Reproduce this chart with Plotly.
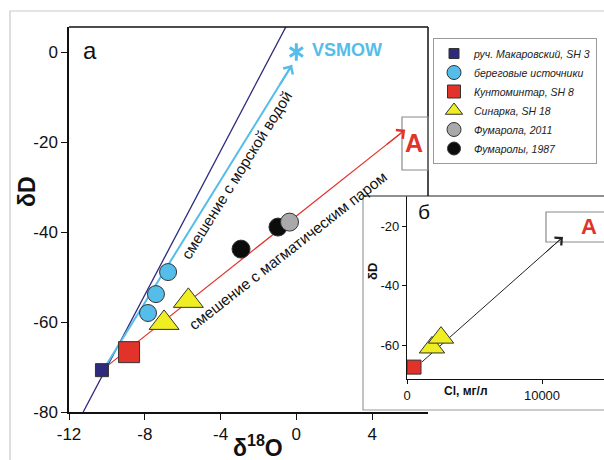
import math
import plotly.graph_objects as go

W, H = 604, 460
FONT = "Liberation Sans, Arial, sans-serif"

# ---------------- data: main panel (a) ----------------
mak_x, mak_y = [-10.26], [-70.7]                      # руч. Макаровский, SH 3
shore_x, shore_y = [-6.77, -7.41, -7.83], [-48.9, -53.8, -58.0]   # береговые источники
kunt_x, kunt_y = [-8.83], [-66.7]                     # Кунтоминтар, SH 8
sin_x, sin_y = [-5.70, -6.98], [-55.3, -60.2]         # Синарка, SH 18
fum11_x, fum11_y = [-0.36], [-37.8]                   # Фумарола, 2011
fum87_x, fum87_y = [-2.92, -0.97], [-43.8, -38.9]     # Фумаролы, 1987
vsmow_x, vsmow_y = [0.0], [0.0]

gmwl_x, gmwl_y = [-11.25, -0.5], [-80.0, 6.0]         # meteoric water line
sea_x, sea_y = [-10.1, -0.23], [-70.0, -2.9]          # mixing with sea water
mag_x, mag_y = [-10.26, 5.74], [-70.7, -17.3]         # mixing with magmatic steam

x_ticks = [-12, -8, -4, 0, 4]
x_ticktext = ["-12", "-8", "-4", "0", "4"]
y_ticks = [0, -20, -40, -60, -80]
y_ticktext = ["0", "-20", "-40", "-60", "-80"]

# ---------------- data: inset (б) ----------------
in_kunt_x, in_kunt_y = [520], [-67.4]
in_sin_x, in_sin_y = [1850, 2520], [-60.8, -57.5]
in_arrow_x, in_arrow_y = [1100, 11550], [-65.7, -23.7]
in_x_ticks = [0, 10000]
in_x_ticktext = ["0", "10000"]
in_y_ticks = [-20, -40, -60]
in_y_ticktext = ["-20", "-40", "-60"]

# ---------------- geometry helpers ----------------
def px(x):
    return x / W

def py(y):
    return 1 - y / H

MX0, MX1, MY0, MY1 = 69, 428, 27, 412          # main plot area (px)
IX0, IX1, IY0, IY1 = 407, 604, 196, 379        # inset plot area (px)
mxr = [-12, 6.95]
myr = [-80, 5.56]
ixr = [0, 14593]
iyr = [-71.4, -9.9]

PURPLE = "#2e2a7e"
CYAN = "#55bde9"
RED = "#e2332b"
YELLOW = "#eeee22"
GRAY = "#a9a9ab"
BLACK = "#0c0c0c"
EDGE = "#333333"

fig = go.Figure()

# lines (below markers)
fig.add_trace(go.Scatter(x=gmwl_x, y=gmwl_y, mode="lines",
                         line=dict(color=PURPLE, width=1.3), showlegend=False, hoverinfo="skip"))
fig.add_trace(go.Scatter(x=sea_x, y=sea_y, mode="lines",
                         line=dict(color=CYAN, width=2), showlegend=False, hoverinfo="skip"))
fig.add_trace(go.Scatter(x=mag_x, y=mag_y, mode="lines",
                         line=dict(color=RED, width=1.2), showlegend=False, hoverinfo="skip"))

def pts(x, y, symbol, size, color, xa="x", ya="y"):
    fig.add_trace(go.Scatter(x=x, y=y, mode="markers", xaxis=xa, yaxis=ya,
                             marker=dict(symbol=symbol, size=size, color=color,
                                         line=dict(color=EDGE, width=1)),
                             showlegend=False, cliponaxis=False))

pts(mak_x, mak_y, "square", 13, PURPLE)
pts(shore_x, shore_y, "circle", 17, CYAN)
pts(kunt_x, kunt_y, "square", 21, RED)
pts(sin_x, sin_y, "triangle-up", 26, YELLOW)
pts(fum87_x, fum87_y, "circle", 18, BLACK)
pts(fum11_x, fum11_y, "circle", 18, GRAY)

# VSMOW asterisk (6 arms)
for sym in ["y-up-open", "y-down-open"]:
    fig.add_trace(go.Scatter(x=vsmow_x, y=vsmow_y, mode="markers", showlegend=False,
                             marker=dict(symbol=sym, size=11, color=CYAN,
                                         line=dict(color=CYAN, width=3)), cliponaxis=False))

# inset traces
fig.add_trace(go.Scatter(x=in_arrow_x, y=in_arrow_y, mode="lines", xaxis="x2", yaxis="y2",
                         line=dict(color="#222222", width=1), showlegend=False, hoverinfo="skip"))
pts(in_kunt_x, in_kunt_y, "square", 14, RED, "x2", "y2")
pts(in_sin_x, in_sin_y, "triangle-up", 22, YELLOW, "x2", "y2")

# legend-only entries
legend_items = [
    ("руч. Макаровский, SH 3", "square", 10, PURPLE),
    ("береговые источники", "circle", 14, CYAN),
    ("Кунтоминтар, SH 8", "square", 13, RED),
    ("Синарка, SH 18", "triangle-up", 15, YELLOW),
    ("Фумарола, 2011", "circle", 14, GRAY),
    ("Фумаролы, 1987", "circle", 13, BLACK),
]
for name, sym, size, col in legend_items:
    fig.add_trace(go.Scatter(x=[None], y=[None], mode="markers", name=name,
                             marker=dict(symbol=sym, size=size, color=col,
                                         line=dict(color=EDGE, width=1))))

# ---------------- arrowheads ----------------
def arrowhead(xs, ys, xr, yr, dom_w, dom_h, xref, yref, color, width, size):
    sx = dom_w / (xr[1] - xr[0])
    sy = dom_h / (yr[1] - yr[0])
    dxp = (xs[-1] - xs[0]) * sx
    dyp = (ys[-1] - ys[0]) * sy
    n = math.hypot(dxp, dyp)
    L = 25
    return dict(x=xs[-1], y=ys[-1], xref=xref, yref=yref, text="", showarrow=True,
                ax=-dxp / n * L, ay=dyp / n * L, arrowhead=4, arrowsize=size,
                arrowwidth=width, arrowcolor=color)

annotations = [
    arrowhead(sea_x, sea_y, mxr, myr, MX1 - MX0, MY1 - MY0, "x", "y", CYAN, 2, 1.1),
    arrowhead(mag_x, mag_y, mxr, myr, MX1 - MX0, MY1 - MY0, "x", "y", RED, 1.2, 1.8),
    arrowhead(in_arrow_x, in_arrow_y, ixr, iyr, IX1 - IX0, IY1 - IY0, "x2", "y2", "#222222", 1, 2.0),
]

def label(text, x, y, size, color="#111111", bold=False, angle=0):
    annotations.append(dict(text=f"<b>{text}</b>" if bold else text, x=px(x), y=py(y),
                            xref="paper", yref="paper", showarrow=False,
                            xanchor="center", yanchor="middle", textangle=angle,
                            font=dict(family=FONT, size=size, color=color)))

label("а", 90, 50, 24)
label("б", 424, 211, 21)
label("VSMOW", 347, 50, 18, CYAN, bold=True)
label("A", 414, 143, 25, RED, bold=True)
label("A", 589, 227, 22, RED, bold=True)
label("смешение с морской водой", 236, 175, 15.3, angle=-58)
label("смешение с магматическим паром", 288, 251, 15.3, angle=-38)
label("δD", 27, 192, 23, bold=True, angle=-90)
label("δ<sup>18</sup>O", 258, 446, 23, bold=True)
label("δD", 372, 272, 13, bold=True, angle=-90)
label("Cl, мг/л", 466, 391, 12, bold=True)

# ---------------- shapes ----------------
shapes = [
    # outer gray frame
    dict(type="rect", xref="paper", yref="paper", x0=px(10), x1=px(640), y0=py(11), y1=py(500),
         line=dict(color="#c9c9c9", width=1.2), layer="below"),
    # inset frame (white)
    dict(type="rect", xref="paper", yref="paper", x0=px(363), x1=px(640), y0=py(196), y1=py(410),
         line=dict(color="#9a9a9a", width=1.2), fillcolor="white", layer="below"),
    dict(type="line", xref="paper", yref="paper", x0=px(363), x1=px(640), y0=py(196), y1=py(196),
         line=dict(color="#555555", width=1.2), layer="above"),
    # main plot top & right borders
    dict(type="line", xref="paper", yref="paper", x0=px(MX0), x1=px(MX1), y0=py(MY0), y1=py(MY0),
         line=dict(color="#111111", width=1.5), layer="above"),
    dict(type="line", xref="paper", yref="paper", x0=px(MX1), x1=px(MX1), y0=py(MY0), y1=py(196),
         line=dict(color="#111111", width=1.5), layer="above"),
    # "A" boxes
    dict(type="rect", xref="paper", yref="paper", x0=px(402), x1=px(MX1), y0=py(117), y1=py(170),
         line=dict(color="#8a8a8a", width=1.2), layer="above"),
    dict(type="rect", xref="paper", yref="paper", x0=px(546), x1=px(640), y0=py(212), y1=py(242),
         line=dict(color="#8a8a8a", width=1.2), layer="above"),
]

axis_common = dict(showgrid=False, zeroline=False, showline=True, linecolor="#111111",
                   ticks="outside", tickcolor="#111111", color="#111111", automargin=False)

fig.update_layout(
    width=W, height=H,
    margin=dict(l=0, r=0, t=0, b=0, autoexpand=False),
    paper_bgcolor="white", plot_bgcolor="rgba(0,0,0,0)",
    font=dict(family=FONT, color="#111111"),
    xaxis=dict(domain=[px(MX0), px(MX1)], range=mxr, tickvals=x_ticks, ticktext=x_ticktext,
               ticklen=6, linewidth=1.5, tickwidth=1.2, tickfont=dict(size=17), anchor="y", **axis_common),
    yaxis=dict(domain=[py(MY1), py(MY0)], range=myr, tickvals=y_ticks, ticktext=y_ticktext,
               ticklen=6, linewidth=1.5, tickwidth=1.2, tickfont=dict(size=17), anchor="x", **axis_common),
    xaxis2=dict(domain=[px(IX0), px(IX1)], range=ixr, tickvals=in_x_ticks, ticktext=in_x_ticktext,
                ticklen=4, linewidth=1.2, tickwidth=1, tickfont=dict(size=13), anchor="y2", **axis_common),
    yaxis2=dict(domain=[py(IY1), py(IY0)], range=iyr, tickvals=in_y_ticks, ticktext=in_y_ticktext,
                ticklen=4, linewidth=1.2, tickwidth=1, tickfont=dict(size=13), anchor="x2", **axis_common),
    legend=dict(x=px(433), y=py(101), xanchor="left", yanchor="middle",
                bgcolor="white", bordercolor="#9a9a9a", borderwidth=1,
                font=dict(family=FONT, size=10.5, style="italic", color="#222222"),
                tracegroupgap=0),
    shapes=shapes,
    annotations=annotations,
    showlegend=True,
)

fig.write_html("out.html", config={"displayModeBar": False},
               post_script="document.body.style.margin='0px';document.body.style.overflow='hidden';")
